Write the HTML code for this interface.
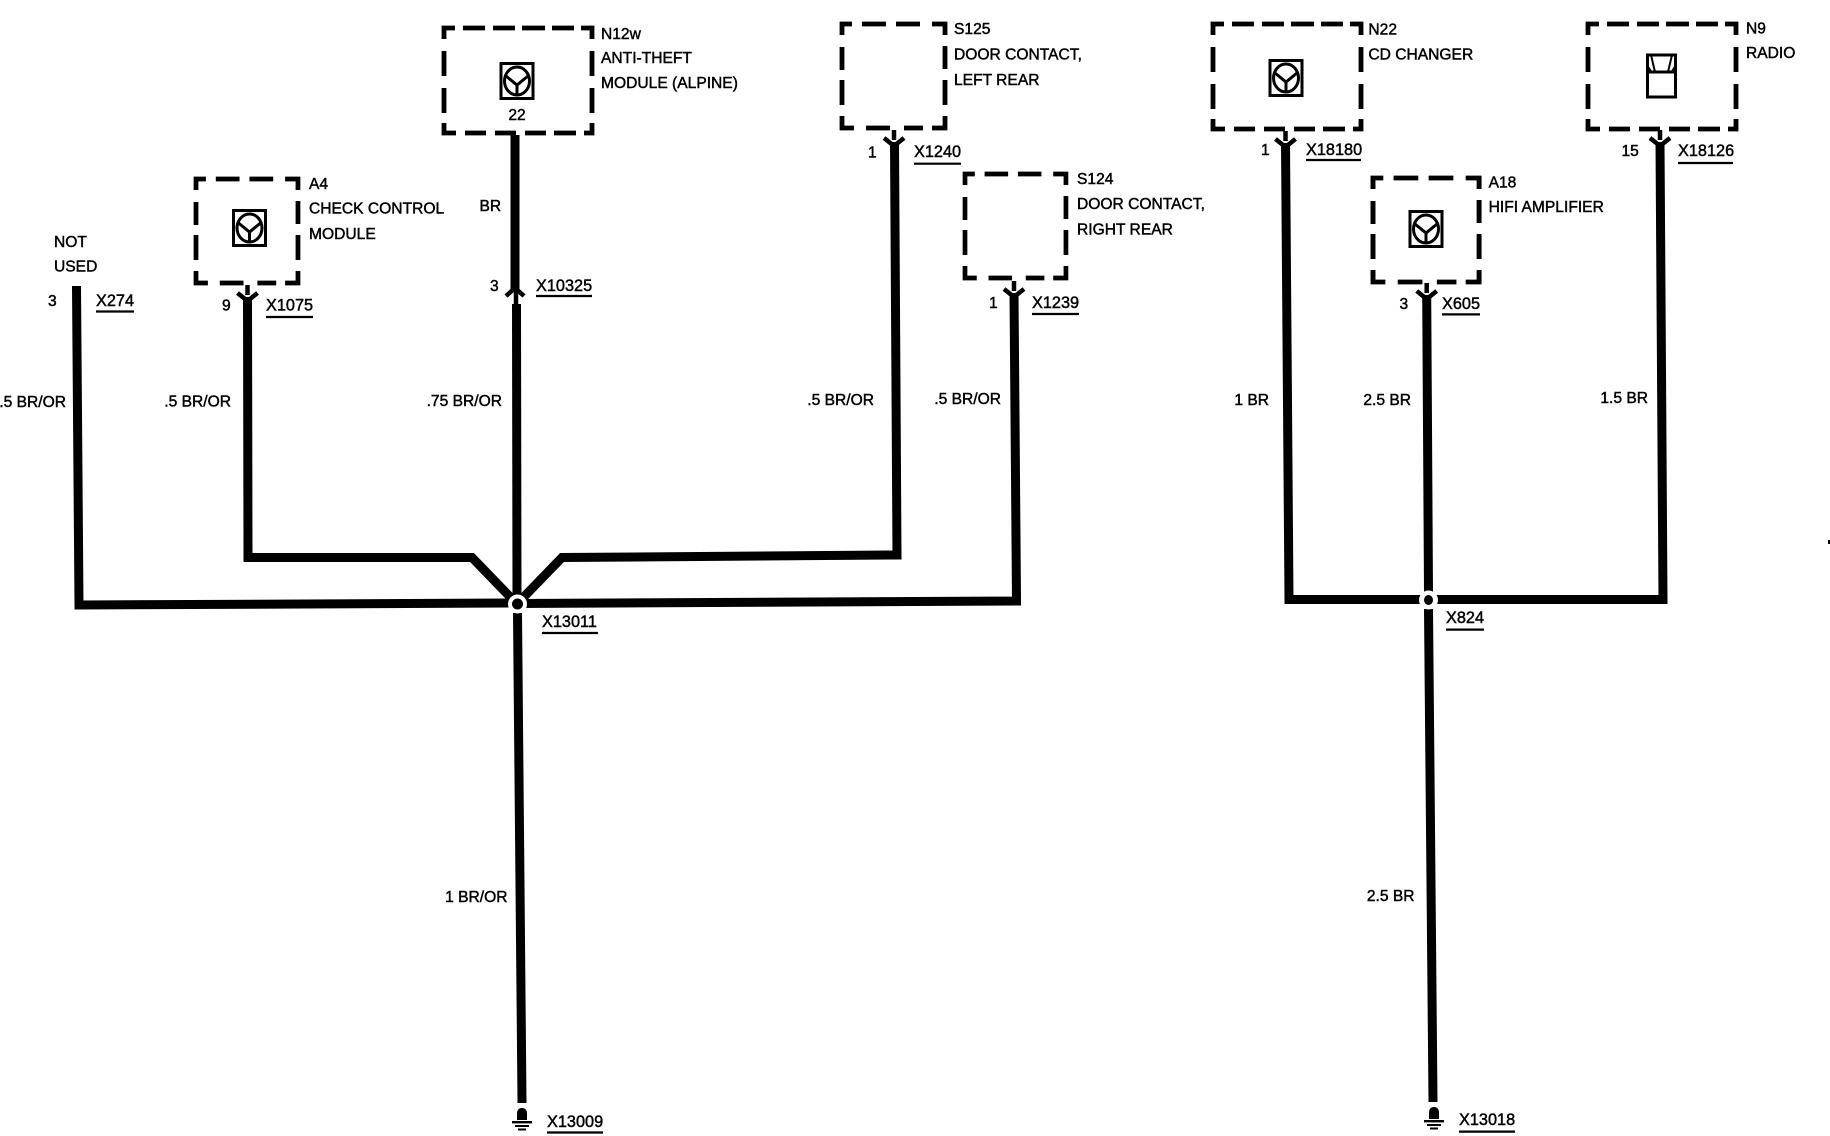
<!DOCTYPE html>
<html>
<head>
<meta charset="utf-8">
<style>
html,body{margin:0;padding:0;background:#fff;}
svg{display:block;}
text{font-family:"Liberation Sans",sans-serif;font-size:15.6px;fill:#000;stroke:#000;stroke-width:.45px;}
text.x{font-size:16.3px;}
.w{fill:none;stroke:#000;stroke-width:9;stroke-linejoin:miter;}
.b{fill:none;stroke:#000;stroke-width:4.8;}
.h{fill:none;stroke:#000;stroke-width:4.5;}
.s{fill:none;stroke:#000;stroke-width:4.5;}
.u{fill:none;stroke:#000;stroke-width:2.2;}
.ic{fill:none;stroke:#000;stroke-width:3;}
</style>
</head>
<body>
<svg width="1830" height="1136" viewBox="0 0 1830 1136" xmlns="http://www.w3.org/2000/svg">
<defs>
<path id="big" class="b" d="M0 11V0H11M19 0H41M49 0H71M78 0H101M108 0H130M137 0H148V11M0 23V48M0 60V85M0 95V105H12M21 105H42M51 105H72M81 105H102M110 105H132M140 105H148V95M148 23V48M148 60V85"/>
<path id="small" class="b" d="M0 11V0H10M20 0H44M54 0H78M90 0H103V11M0 23V46M0 56V81M0 92V104H12M24 104H48M62 104H81M90 104H103V92M103 22V45M103 56V81"/>
<g id="icon">
<rect class="ic" x="-16" y="-17.5" width="32" height="35"/>
<ellipse class="ic" cx="0" cy="0" rx="12.5" ry="14"/>
<path class="ic" d="M-11 -5L0 4L11 -5M0 4V14"/>
</g>
<g id="gnd">
<path d="M517 1120V1114Q517 1108 522 1108Q527 1108 527 1114V1120Z" fill="#000"/>
<rect x="512" y="1121" width="20" height="2.4" fill="#000"/>
<rect x="515" y="1125" width="14" height="2" fill="#000"/>
<rect x="518" y="1128.5" width="8" height="2" fill="#000"/>
</g>
</defs>

<!-- boxes -->
<use href="#big" transform="translate(444 28)"/>
<use href="#small" transform="translate(196 179) scale(.99 1)"/>
<use href="#small" transform="translate(842 24)"/>
<use href="#small" transform="translate(965 174) scale(.98 1)"/>
<use href="#big" transform="translate(1213 24)"/>
<use href="#big" transform="translate(1588 24)"/>
<use href="#small" transform="translate(1373 178) scale(1.03 1)"/>

<!-- icons -->
<use href="#icon" transform="translate(517 81)"/>
<use href="#icon" transform="translate(249.5 228)"/>
<use href="#icon" transform="translate(1286 78)"/>
<use href="#icon" transform="translate(1426 229)"/>
<rect class="ic" x="1647.5" y="55" width="28" height="42"/>
<path class="ic" d="M1647.5 72H1675.5"/>
<path fill="none" stroke="#000" stroke-width="2" d="M1651 55L1655 72M1672 55L1668 72"/>
<path d="M1647.5 64L1652 71H1647.5ZM1675.5 64L1671 71H1675.5Z" fill="#000"/>

<!-- wires -->
<path class="w" d="M76.5 286L79 605L517 603"/>
<path class="w" d="M247.5 297L248 557.5H472L517 604"/>
<path class="w" d="M515 135V289"/>
<path class="w" d="M516.5 304L517 600"/>
<path class="w" d="M894.5 142L897 555L562 557.5L517 604"/>
<path class="w" d="M1014 293L1016.5 601L517 603.5"/>
<path class="w" d="M517.5 613L522 1103"/>
<path class="w" d="M1285.5 143L1289 599.5H1663L1660 142"/>
<path class="w" d="M1426.7 295L1428.5 592"/>
<path class="w" d="M1428.5 609L1433 1102"/>

<!-- connector heads -->
<path class="s" d="M247.5 285V295"/><path class="h" d="M237.5 293L247.5 301L257.5 293"/>
<path class="s" d="M894 130V140"/><path class="h" d="M884 138L894 146L904 138"/>
<path class="s" d="M1014 281V291"/><path class="h" d="M1004 289L1014 297L1024 289"/>
<path class="s" d="M1285.5 131V141"/><path class="h" d="M1275.5 139L1285.5 147L1295.5 139"/>
<path class="s" d="M1426.7 283V293"/><path class="h" d="M1416.7 291L1426.7 299L1436.7 291"/>
<path class="s" d="M1660 130V140"/><path class="h" d="M1650 138L1660 146L1670 138"/>
<path class="h" d="M506 296L515 288L524 296"/>
<path class="s" d="M516 290V305"/>

<!-- junctions -->
<circle cx="517.5" cy="604" r="9.5" fill="#fff"/>
<circle cx="517.5" cy="604" r="5.5" fill="#000"/>
<circle cx="1428.5" cy="600" r="9.5" fill="#fff"/>
<ellipse cx="1428.5" cy="600" rx="4.5" ry="5" fill="#000"/>

<!-- grounds -->
<use href="#gnd"/>
<use href="#gnd" transform="translate(912 -1)"/>

<rect x="1828" y="540" width="2" height="4" fill="#000"/>

<!-- underlines -->
<path class="u" d="M96 311.5H134M266 317H313M536 296H592M914 163.7H961M1032 314H1079M1306 160H1361M1678 163H1733M1442 314.4H1480M542 633H598M1446 629.6H1484M547 1132.5H603M1459 1131.6H1515"/>

<!-- labels -->
<g transform="translate(0 -0.8)">
<text x="601" y="40">N12w</text>
<text x="601" y="64">ANTI-THEFT</text>
<text x="601" y="89">MODULE (ALPINE)</text>
<text x="517" y="121" text-anchor="middle">22</text>

<text x="309" y="190">A4</text>
<text x="309" y="214.5">CHECK CONTROL</text>
<text x="309" y="240">MODULE</text>

<text x="54" y="248">NOT</text>
<text x="54" y="272.4">USED</text>
<text x="48" y="307">3</text>
<text class="x" x="96" y="307">X274</text>

<text x="222" y="311.5">9</text>
<text class="x" x="266" y="311.5">X1075</text>

<text x="479.5" y="212">BR</text>
<text x="490" y="291.6">3</text>
<text class="x" x="536" y="291.6">X10325</text>

<text x="66" y="408" text-anchor="end">.5 BR/OR</text>
<text x="231" y="407.5" text-anchor="end">.5 BR/OR</text>
<text x="502" y="406.7" text-anchor="end">.75 BR/OR</text>
<text x="874" y="405.7" text-anchor="end">.5 BR/OR</text>
<text x="1001" y="404.6" text-anchor="end">.5 BR/OR</text>

<text x="868" y="158.5">1</text>
<text class="x" x="914" y="157.6">X1240</text>
<text x="954" y="35">S125</text>
<text x="954" y="60.5">DOOR CONTACT,</text>
<text x="954" y="85.8">LEFT REAR</text>

<text x="1077" y="184.7">S124</text>
<text x="1077" y="210">DOOR CONTACT,</text>
<text x="1077" y="235.4">RIGHT REAR</text>
<text x="989" y="309">1</text>
<text class="x" x="1032" y="309">X1239</text>

<text x="1368.4" y="35.5">N22</text>
<text x="1368.4" y="60.5">CD CHANGER</text>
<text x="1746" y="34.4">N9</text>
<text x="1746" y="59">RADIO</text>
<text x="1261" y="155.7">1</text>
<text class="x" x="1306" y="155.7">X18180</text>
<text x="1488.6" y="188.3">A18</text>
<text x="1488.6" y="212.6">HIFI AMPLIFIER</text>
<text x="1621.5" y="157">15</text>
<text class="x" x="1678" y="157">X18126</text>
<text x="1399.5" y="309.7">3</text>
<text class="x" x="1442" y="309.7">X605</text>

<text x="1269" y="405.7" text-anchor="end">1 BR</text>
<text x="1411" y="405.7" text-anchor="end">2.5 BR</text>
<text x="1648" y="404" text-anchor="end">1.5 BR</text>

<text class="x" x="542" y="628">X13011</text>
<text class="x" x="1446" y="624">X824</text>
<text x="507.5" y="903" text-anchor="end">1 BR/OR</text>
<text x="1414.5" y="902" text-anchor="end">2.5 BR</text>
<text class="x" x="547" y="1127.6">X13009</text>
<text class="x" x="1459" y="1125.8">X13018</text>
</g>
</svg>
</body>
</html>
